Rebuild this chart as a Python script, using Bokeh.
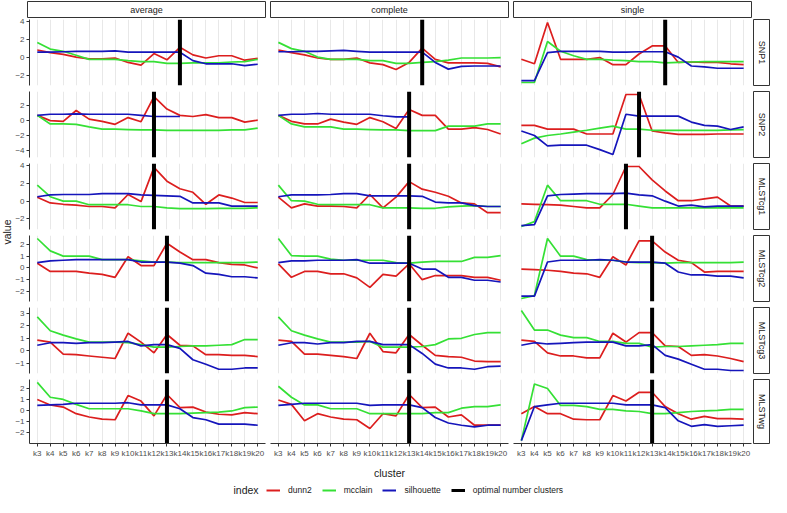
import math
from bokeh.plotting import figure
from bokeh.layouts import row, column
from bokeh.models import (Range1d, FixedTicker, Label, Legend, LegendItem,
                          LinearAxis, Grid, Spacer)
from bokeh.embed import file_html
from bokeh.resources import INLINE
from bokeh.core.properties import value

# ---------------- data ----------------
clusters = ["k3", "k4", "k5", "k6", "k7", "k8", "k9", "k10", "k11", "k12",
            "k13", "k14", "k15", "k16", "k17", "k18", "k19", "k20"]
methods = ["average", "complete", "single"]
datasets = ["SNP1", "SNP2", "MLSTcg1", "MLSTcg2", "MLSTcg3", "MLSTwg"]
indices = ["dunn2", "mcclain", "silhouette"]
legend_labels = ["dunn2", "mcclain", "silhouette", "optimal number clusters"]

# optimal number of clusters per dataset (average, complete, single)
SNP1_optimal = ["k14", "k14", "k14"]
SNP2_optimal = ["k12", "k13", "k12"]
MLSTcg1_optimal = ["k12", "k13", "k11"]
MLSTcg2_optimal = ["k13", "k13", "k13"]
MLSTcg3_optimal = ["k13", "k13", "k13"]
MLSTwg_optimal = ["k13", "k13", "k13"]

# y tick labels per row
SNP1_yticks = [-2, 0, 2, 4]
SNP2_yticks = [-4, -2, 0, 2]
MLSTcg1_yticks = [-2, 0, 2, 4]
MLSTcg2_yticks = [-2, -1, 0, 1, 2]
MLSTcg3_yticks = [-1, 0, 1, 2, 3]
MLSTwg_yticks = [-2, -1, 0, 1, 2]

SNP1_average_dunn2 = [0.85, 0.55, 0.35, 0.05, -0.15, -0.15, -0.05, -0.55, -0.85, 0.45, -0.25, 1.15, 0.3, -0.05, 0.2, 0.2, -0.3, -0.1]
SNP1_average_mcclain = [1.7, 0.95, 0.7, 0.25, -0.2, -0.2, -0.2, -0.35, -0.45, -0.45, -0.65, -0.65, -0.6, -0.6, -0.6, -0.5, -0.45, -0.2]
SNP1_average_silhouette = [0.6, 0.6, 0.65, 0.7, 0.7, 0.7, 0.75, 0.6, 0.6, 0.6, 0.6, 0.6, -0.35, -0.7, -0.7, -0.7, -0.9, -0.75]
SNP1_complete_dunn2 = [0.85, 0.55, 0.3, -0.05, -0.2, -0.2, -0.05, -0.6, -0.8, -1.35, -0.55, 1.05, -0.2, -0.6, -0.6, -0.6, -0.65, -1.05]
SNP1_complete_mcclain = [1.7, 1.0, 0.7, 0.05, -0.2, -0.2, -0.2, -0.35, -0.35, -0.65, -0.65, -0.55, -0.45, -0.3, -0.05, -0.05, -0.05, 0.0]
SNP1_complete_silhouette = [0.65, 0.65, 0.7, 0.7, 0.75, 0.8, 0.7, 0.6, 0.6, 0.6, 0.6, 0.6, -0.55, -1.3, -1.0, -0.95, -0.95, -0.95]
SNP1_single_dunn2 = [-0.2, -0.7, 3.93, -0.2, -0.2, -0.2, 0.0, -0.8, -0.8, 0.4, 1.3, 1.3, -0.55, -0.5, -0.55, -0.55, -0.7, -0.8]
SNP1_single_mcclain = [-2.8, -2.8, 1.8, 0.7, 0.2, -0.2, -0.2, -0.3, -0.35, -0.45, -0.45, -0.6, -0.55, -0.5, -0.45, -0.45, -0.45, -0.45]
SNP1_single_silhouette = [-2.6, -2.6, 0.55, 0.7, 0.7, 0.7, 0.7, 0.6, 0.6, 0.65, 0.65, 0.65, 0.05, -0.95, -1.05, -1.2, -1.2, -1.2]

SNP2_average_dunn2 = [0.7, 0.0, -0.1, 1.35, 0.2, -0.1, -0.5, 0.4, -0.15, 3.2, 1.55, 0.7, 0.55, 0.8, 0.4, 0.4, -0.2, 0.05]
SNP2_average_mcclain = [0.7, -0.45, -0.45, -0.5, -0.85, -1.15, -1.15, -1.2, -1.25, -1.25, -1.3, -1.3, -1.3, -1.3, -1.3, -1.25, -1.25, -1.0]
SNP2_average_silhouette = [0.7, 0.85, 0.85, 0.9, 0.85, 0.85, 0.85, 0.85, 0.7, 0.55, 0.55, 0.55, None, None, None, None, None, None]
SNP2_complete_dunn2 = [0.7, -0.1, -0.45, -0.45, 0.2, -0.2, -0.5, 0.4, -0.15, -1.05, 1.5, 0.7, 0.7, -1.15, -1.15, -0.95, -1.2, -1.8]
SNP2_complete_mcclain = [0.7, -0.45, -0.85, -0.85, -0.85, -1.15, -1.15, -1.2, -1.25, -1.25, -1.35, -1.35, -1.35, -0.75, -0.75, -0.75, -0.45, -0.45]
SNP2_complete_silhouette = [0.7, 0.85, 0.85, 0.95, 0.85, 0.85, 0.85, 0.85, 0.65, 0.5, 0.5, None, None, None, None, None, None, None]
SNP2_single_dunn2 = [-0.65, -0.65, -1.15, -1.15, -1.15, -1.8, -1.8, -1.8, 3.5, 3.5, -1.4, -1.65, -1.85, -1.85, -1.85, -1.8, -1.8, -1.8]
SNP2_single_mcclain = [-3.1, -2.35, -2.0, -1.8, -1.55, -1.3, -1.0, -0.75, -1.15, -1.15, -1.3, -1.3, -1.3, -1.3, -1.3, -1.3, -1.25, -1.2]
SNP2_single_silhouette = [-1.4, -2.0, -3.4, -3.3, -3.3, -3.3, -3.9, -4.55, 0.85, 0.6, 0.6, 0.6, 0.6, -0.2, -0.65, -0.75, -1.2, -0.85]

MLSTcg1_average_dunn2 = [0.45, -0.2, -0.35, -0.45, -0.6, -0.6, -0.75, 0.75, -0.05, 3.8, 2.25, 1.4, 1.0, -0.35, 0.7, 0.35, -0.15, -0.15]
MLSTcg1_average_mcclain = [1.8, 0.5, 0.0, 0.0, -0.4, -0.4, -0.4, -0.4, -0.6, -0.6, -0.75, -0.85, -0.85, -0.85, -0.8, -0.8, -0.8, -0.75]
MLSTcg1_average_silhouette = [0.5, 0.7, 0.75, 0.75, 0.75, 0.85, 0.85, 0.85, 0.7, 0.65, 0.6, 0.55, -0.2, -0.2, -0.2, -0.55, -0.55, -0.55]
MLSTcg1_complete_dunn2 = [0.45, -0.75, -0.3, -0.55, -0.55, -0.6, -0.75, 0.75, -0.75, 0.45, 2.2, 1.35, 1.0, 0.55, -0.2, -0.3, -1.3, -1.3]
MLSTcg1_complete_mcclain = [1.8, 0.05, 0.0, -0.35, -0.4, -0.4, -0.4, -0.4, -0.75, -0.75, -0.75, -0.8, -0.8, -0.65, -0.55, -0.5, -0.6, -0.6]
MLSTcg1_complete_silhouette = [0.5, 0.7, 0.7, 0.7, 0.75, 0.85, 0.85, 0.6, 0.6, 0.6, 0.6, 0.55, -0.1, -0.2, -0.2, -0.5, -0.6, -0.6]
MLSTcg1_single_dunn2 = [-0.3, -0.35, -0.4, -0.45, -0.6, -0.75, -0.75, 0.75, 3.9, 3.9, 2.4, 1.15, 0.05, 0.05, 0.25, 0.45, -0.55, -0.55]
MLSTcg1_single_mcclain = [-2.85, -2.3, 1.8, 0.05, 0.05, 0.05, -0.35, -0.35, -0.35, -0.55, -0.75, -0.75, -0.75, -0.75, -0.75, -0.75, -0.75, -0.75]
MLSTcg1_single_silhouette = [-2.75, -2.65, 0.6, 0.75, 0.8, 0.85, 0.85, 0.85, 0.9, 0.7, 0.6, 0.0, -0.55, -0.45, -0.65, -0.55, -0.55, -0.55]

MLSTcg2_average_dunn2 = [0.4, -0.3, -0.3, -0.3, -0.45, -0.55, -0.8, 0.95, 0.2, 0.2, 2.1, 1.35, 0.7, 0.7, 0.45, 0.3, 0.25, 0.0]
MLSTcg2_average_mcclain = [2.5, 1.45, 1.0, 1.0, 1.0, 0.7, 0.7, 0.7, 0.6, 0.5, 0.5, 0.45, 0.45, 0.45, 0.45, 0.45, 0.45, 0.5]
MLSTcg2_average_silhouette = [0.45, 0.6, 0.65, 0.7, 0.7, 0.7, 0.7, 0.7, 0.5, 0.5, 0.5, 0.4, 0.2, -0.45, -0.55, -0.75, -0.75, -0.85]
MLSTcg2_complete_dunn2 = [0.35, -0.8, -0.3, -0.3, -0.5, -0.5, -0.85, -1.65, -0.55, -0.7, 0.35, -1.0, -0.65, -0.65, -0.65, -0.8, -0.8, -1.05]
MLSTcg2_complete_mcclain = [2.5, 1.05, 1.0, 1.0, 0.75, 0.65, 0.65, 0.65, 0.65, 0.45, 0.4, 0.5, 0.55, 0.55, 0.55, 0.9, 0.9, 1.05]
MLSTcg2_complete_silhouette = [0.45, 0.6, 0.6, 0.65, 0.65, 0.65, 0.7, 0.4, 0.4, 0.4, 0.4, -0.1, -0.1, -0.8, -0.8, -1.05, -1.05, -1.2]
MLSTcg2_single_dunn2 = [-0.1, -0.15, -0.2, -0.3, -0.45, -0.5, -0.8, 0.95, 0.25, 2.3, 2.3, 1.35, 0.65, 0.45, -0.35, -0.3, -0.3, -0.3]
MLSTcg2_single_mcclain = [-2.6, -2.35, 2.5, 1.0, 1.0, 0.7, 0.65, 0.65, 0.5, 0.45, 0.45, 0.4, 0.45, 0.45, 0.45, 0.45, 0.45, 0.5]
MLSTcg2_single_silhouette = [-2.4, -2.4, 0.5, 0.65, 0.65, 0.65, 0.7, 0.65, 0.5, 0.5, 0.5, 0.4, -0.35, -0.6, -0.6, -0.7, -0.7, -0.85]

MLSTcg3_average_dunn2 = [0.85, 0.7, -0.25, -0.3, -0.4, -0.5, -0.6, 1.4, 0.7, -0.15, 1.3, 0.45, 0.4, -0.3, -0.3, -0.35, -0.35, -0.45]
MLSTcg3_average_mcclain = [2.7, 1.6, 1.25, 0.95, 0.7, 0.7, 0.7, 0.65, 0.5, 0.3, 0.3, 0.35, 0.4, 0.4, 0.45, 0.5, 0.9, 0.9]
MLSTcg3_average_silhouette = [0.45, 0.65, 0.65, 0.6, 0.65, 0.65, 0.7, 0.75, 0.4, 0.5, 0.5, 0.2, -0.7, -1.05, -1.45, -1.45, -1.35, -1.35]
MLSTcg3_complete_dunn2 = [0.85, 0.75, -0.25, -0.25, -0.35, -0.45, -0.6, 1.4, -0.05, -0.15, 1.3, 0.45, -0.35, -0.45, -0.5, -0.8, -0.85, -0.85]
MLSTcg3_complete_mcclain = [2.7, 1.6, 1.25, 0.95, 0.7, 0.7, 0.7, 0.75, 0.3, 0.3, 0.3, 0.35, 0.5, 0.95, 1.0, 1.3, 1.45, 1.45]
MLSTcg3_complete_silhouette = [0.45, 0.65, 0.65, 0.55, 0.65, 0.65, 0.75, 0.75, 0.5, 0.5, 0.5, -0.2, -1.05, -1.35, -1.35, -1.45, -1.25, -1.2]
MLSTcg3_single_dunn2 = [0.85, 0.75, -0.15, -0.4, -0.4, -0.55, -0.55, 1.4, 0.7, 1.45, 1.45, 0.4, 0.35, -0.35, -0.3, -0.4, -0.6, -0.85]
MLSTcg3_single_mcclain = [3.2, 1.65, 1.65, 1.25, 1.05, 1.05, 0.75, 0.75, 0.6, 0.6, 0.3, 0.35, 0.35, 0.4, 0.45, 0.5, 0.6, 0.6]
MLSTcg3_single_silhouette = [0.45, 0.65, 0.55, 0.6, 0.65, 0.7, 0.7, 0.7, 0.4, 0.4, 0.5, -0.35, -0.65, -1.05, -1.45, -1.45, -1.55, -1.55]

MLSTwg_average_dunn2 = [1.05, 0.55, 0.35, -0.25, -0.55, -0.75, -0.8, 1.4, 0.9, -0.45, 1.5, 0.3, 0.35, -0.1, -0.3, -0.35, -0.15, -0.25]
MLSTwg_average_mcclain = [2.6, 1.25, 1.05, 0.6, 0.2, 0.2, 0.2, 0.2, 0.0, -0.25, -0.25, -0.25, -0.2, -0.15, -0.1, 0.0, 0.3, 0.35]
MLSTwg_average_silhouette = [0.5, 0.55, 0.6, 0.7, 0.7, 0.7, 0.7, 0.75, 0.55, 0.55, 0.55, 0.2, -0.6, -0.8, -1.2, -1.2, -1.2, -1.3]
MLSTwg_complete_dunn2 = [1.0, 0.6, -0.9, -0.25, -0.55, -0.75, -0.8, -1.6, -0.25, -0.45, 1.5, 0.3, 0.35, -0.55, -0.35, -1.3, -1.3, -1.3]
MLSTwg_complete_mcclain = [2.25, 1.25, 0.55, 0.55, 0.2, 0.2, 0.2, -0.25, -0.25, -0.25, -0.25, -0.25, -0.15, -0.15, 0.25, 0.4, 0.4, 0.55]
MLSTwg_complete_silhouette = [0.5, 0.6, 0.7, 0.7, 0.7, 0.7, 0.7, 0.5, 0.55, 0.55, 0.55, 0.3, -0.6, -1.1, -1.3, -1.45, -1.3, -1.3]
MLSTwg_single_dunn2 = [-0.25, 0.4, -0.25, -0.25, -0.75, -0.8, -0.8, 1.4, 0.9, 1.7, 1.7, 0.4, -0.25, -0.75, -0.5, -0.7, -0.7, -0.75]
MLSTwg_single_mcclain = [-2.7, 2.45, 2.05, 0.5, 0.5, 0.4, 0.15, 0.15, 0.0, -0.05, -0.25, -0.25, -0.15, -0.05, 0.0, 0.05, 0.15, 0.15]
MLSTwg_single_silhouette = [-2.7, 0.4, 0.55, 0.7, 0.7, 0.7, 0.7, 0.7, 0.55, 0.55, 0.55, 0.3, -0.9, -1.4, -1.25, -1.4, -1.35, -1.3]

# ---------------- assemble lookup tables ----------------
g = globals()
series = {(d, m, i): g[f"{d}_{m}_{i}"] for d in datasets for m in methods for i in indices}
optimal = {d: g[f"{d}_optimal"] for d in datasets}
yticks = {d: g[f"{d}_yticks"] for d in datasets}

# discrete x scale: category -> slot position (like ggplot's discrete scale)
xpos = {k: n for n, k in enumerate(clusters)}
xticks = [xpos[k] for k in clusters]
xlabels = {xpos[k]: k for k in clusters}
XEXP = 0.6  # ggplot discrete expansion

# ---------------- style / layout ----------------
FONT = "Liberation Sans"
COLORS = {"dunn2": "#dc1e1e", "mcclain": "#35e035", "silhouette": "#1515bb",
          "optimal number clusters": "#000000"}
W, H, GAP, XAX, LAX, YLAB, RGAP, SW = 238, 67, 5, 15, 15, 12, 1, 16
AXC = "#333333"
TICKC = "#4d4d4d"


def base_fig(width, height, **kw):
    opts = dict(width=width, height=height, toolbar_location=None, output_backend="svg",
                x_axis_location=None, y_axis_location=None, min_border=0,
                outline_line_color=None, background_fill_color="white",
                border_fill_color="white")
    opts.update(kw)
    f = figure(**opts)
    f.grid.visible = False
    return f


def yrange(d):
    vals = [v for m in methods for i in indices for v in series[(d, m, i)] if v is not None]
    lo, hi = min(vals), max(vals)
    pad = 0.05 * (hi - lo)
    return lo - pad, hi + pad


def panel(r, c):
    d, m = datasets[r], methods[c]
    lo, hi = yrange(d)
    left = LAX if c == 0 else 0
    right = GAP if c < 2 else RGAP
    bottom = GAP if r < 5 else XAX
    p = base_fig(left + W + right, H + bottom,
                 x_range=Range1d(xticks[0] - XEXP, xticks[-1] + XEXP),
                 y_range=Range1d(lo, hi),
                 min_border_left=left, min_border_right=right,
                 min_border_top=0, min_border_bottom=bottom)
    p.add_layout(Grid(dimension=0, ticker=FixedTicker(ticks=xticks, minor_ticks=[]),
                      grid_line_color="#e8e8e8", grid_line_width=1))
    xs = [xpos[k] for k in clusters]
    for i in indices:
        ys = [float("nan") if v is None else v for v in series[(d, m, i)]]
        p.line(x=xs, y=ys, line_color=COLORS[i], line_width=1.7)
    ox = xpos[optimal[d][c]]
    p.segment(x0=[ox], x1=[ox], y0=[lo], y1=[hi], line_color="black", line_width=4)
    if c == 0:
        ax = LinearAxis(ticker=FixedTicker(ticks=yticks[d], minor_ticks=[]),
                        axis_line_color=AXC, major_tick_line_color=AXC,
                        major_tick_out=3, major_tick_in=0, minor_tick_line_color=None,
                        major_label_standoff=2, major_label_text_font=FONT,
                        major_label_text_font_size="8px", major_label_text_color=TICKC)
        p.add_layout(ax, "left")
    if r == 5:
        ax = LinearAxis(ticker=FixedTicker(ticks=xticks, minor_ticks=[]),
                        major_label_overrides=xlabels,
                        axis_line_color=AXC, major_tick_line_color=AXC,
                        major_tick_out=3, major_tick_in=0, minor_tick_line_color=None,
                        major_label_standoff=2, major_label_text_font=FONT,
                        major_label_text_font_size="8px", major_label_text_color=TICKC)
        p.add_layout(ax, "below")
    return p


def strip_top(c):
    left = LAX if c == 0 else 0
    right = GAP if c < 2 else RGAP
    s = base_fig(left + W + right, 18, x_range=Range1d(0, 1), y_range=Range1d(0, 1),
                 min_border_left=left, min_border_right=right,
                 min_border_top=1, min_border_bottom=1,
                 outline_line_color=AXC, outline_line_width=1)
    s.text(x=[0.5], y=[0.5], text=[methods[c]], text_align="center",
           text_baseline="middle", text_font=value(FONT), text_font_size="9px",
           text_color="#1a1a1a")
    return s


def strip_right(r):
    bottom = GAP if r < 5 else XAX
    s = base_fig(1 + SW + 1, H + bottom, x_range=Range1d(0, 1), y_range=Range1d(0, 1),
                 min_border_left=1, min_border_right=1, min_border_top=1,
                 min_border_bottom=bottom, outline_line_color=AXC, outline_line_width=1)
    s.text(x=[0.5], y=[0.5], text=[datasets[r]], angle=-math.pi / 2,
           text_align="center", text_baseline="middle", text_font=value(FONT),
           text_font_size="9px", text_color="#1a1a1a")
    return s


panel_rows = [row(*[panel(r, c) for c in range(3)], strip_right(r)) for r in range(6)]
block_h = 5 * (H + GAP) + H + XAX

ylab = base_fig(YLAB, block_h, x_range=Range1d(0, 1), y_range=Range1d(0, 1))
ylab.add_layout(Label(x=YLAB / 2, y=XAX + (6 * H + 5 * GAP) / 2, x_units="screen",
                      y_units="screen", text="value", angle=math.pi / 2,
                      text_align="center", text_baseline="middle", text_font=FONT,
                      text_font_size="10.5px", text_color="#1a1a1a"))

total_w = YLAB + (LAX + W + GAP) + (W + GAP) + (W + RGAP) + (SW + 2)
FOOT_H = 36
foot = base_fig(total_w, FOOT_H, x_range=Range1d(0, 1), y_range=Range1d(0, 1))
cx = YLAB + LAX + W + GAP + W / 2
foot.add_layout(Label(x=cx, y=FOOT_H - 12, x_units="screen", y_units="screen",
                      text="cluster", text_align="center", text_baseline="middle",
                      text_font=FONT, text_font_size="10.5px", text_color="#1a1a1a"))
foot.add_layout(Label(x=233, y=7, x_units="screen", y_units="screen", text="index",
                      text_align="left", text_baseline="middle", text_font=FONT,
                      text_font_size="10.5px", text_color="#1a1a1a"))
items = []
for lab in legend_labels:
    # single-point line: draws nothing in the plot, only provides the legend key
    rr = foot.line(x=[0.5], y=[0.5], line_color=COLORS[lab],
                   line_width=3 if lab == "optimal number clusters" else 2)
    items.append(LegendItem(label=lab, renderers=[rr]))
leg = Legend(items=items, orientation="horizontal", location=(266, 1),
             border_line_color=None, background_fill_alpha=0, padding=0, margin=0,
             spacing=10, label_standoff=8, glyph_width=14, glyph_height=10,
             label_height=10, label_text_font=FONT, label_text_font_size="8.5px",
             label_text_color="#1a1a1a")
foot.add_layout(leg)

top = row(Spacer(width=YLAB, height=18), *[strip_top(c) for c in range(3)])
layout = column(top, row(ylab, column(*panel_rows)), foot)

open("out.html", "w").write(file_html(layout, INLINE))
